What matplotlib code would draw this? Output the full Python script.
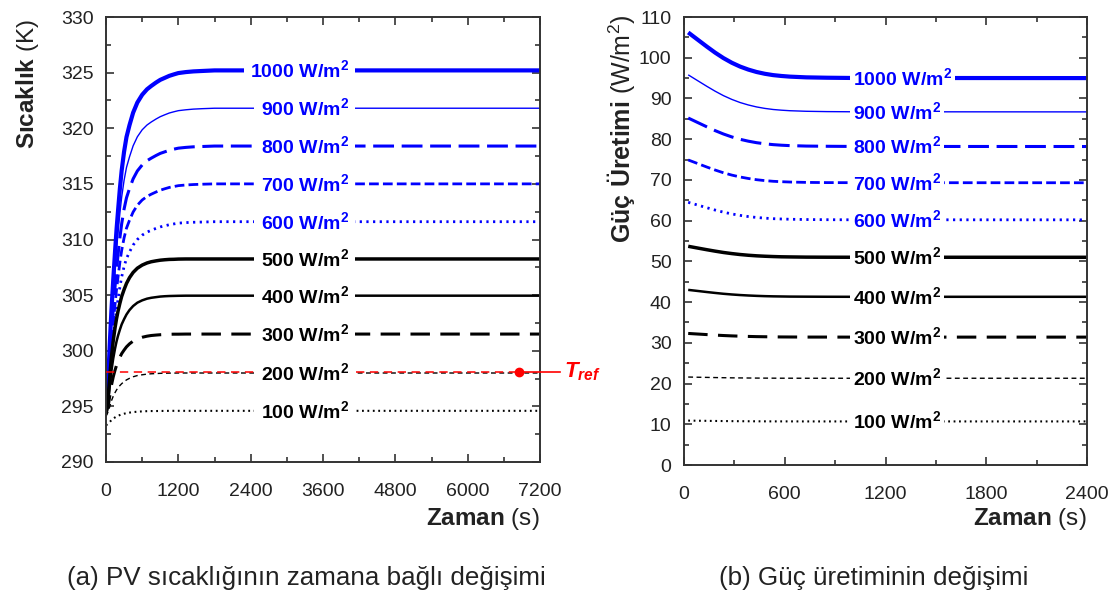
import matplotlib
matplotlib.use('Agg')
import matplotlib.pyplot as plt
from matplotlib.ticker import MultipleLocator

plt.rcParams['font.family'] = ['Liberation Sans', 'DejaVu Sans']
plt.rcParams['mathtext.fontset'] = 'custom'
plt.rcParams['mathtext.rm'] = 'Liberation Sans'
plt.rcParams['mathtext.bf'] = 'Liberation Sans:bold'
plt.rcParams['mathtext.it'] = 'Liberation Sans:bold:italic'
plt.rcParams['lines.scale_dashes'] = False

# ---------------- data ----------------
irradiance = [1000, 900, 800, 700, 600, 500, 400, 300, 200, 100]
series_labels = [rf'{g} W/m$^{{\mathbf{{2}}}}$' for g in irradiance]

# (a) PV temperature vs time (K)
time_a = [0, 20, 40, 65, 90, 120, 150, 175, 200, 230, 260, 300, 340, 390, 450,
          520, 600, 680, 750, 830, 900, 975, 1050, 1125, 1200, 1325, 1450, 1600, 1800, 7200]
temp_1000 = [294.8, 296.17, 297.84, 300.88, 303.62, 306.35, 308.91, 310.91, 312.61, 314.56,
             316.2, 317.9, 319.21, 320.28, 321.4, 322.31, 323.01, 323.5, 323.8, 324.11,
             324.35, 324.53, 324.71, 324.84, 324.96, 325.05, 325.11, 325.15, 325.2, 325.2]
temp_900 = [294.8, 296.01, 297.5, 300.2, 302.63, 305.06, 307.33, 309.11, 310.62, 312.35,
            313.81, 315.32, 316.48, 317.43, 318.42, 319.23, 319.86, 320.29, 320.56, 320.83,
            321.04, 321.21, 321.37, 321.48, 321.58, 321.66, 321.72, 321.76, 321.8, 321.8]
temp_800 = [294.8, 295.86, 297.16, 299.52, 301.64, 303.77, 305.75, 307.31, 308.63, 310.14,
            311.41, 312.74, 313.75, 314.58, 315.45, 316.16, 316.7, 317.08, 317.31, 317.55,
            317.74, 317.88, 318.02, 318.12, 318.21, 318.28, 318.33, 318.36, 318.4, 318.4]
temp_700 = [294.8, 295.71, 296.82, 298.84, 300.66, 302.48, 304.17, 305.51, 306.64, 307.93,
            309.02, 310.15, 311.02, 311.73, 312.47, 313.08, 313.55, 313.87, 314.07, 314.27,
            314.43, 314.56, 314.68, 314.76, 314.84, 314.9, 314.94, 314.97, 315.0, 315.0]
temp_600 = [294.8, 295.56, 296.48, 298.16, 299.67, 301.18, 302.6, 303.7, 304.64, 305.72,
            306.63, 307.57, 308.29, 308.88, 309.5, 310.0, 310.39, 310.66, 310.83, 311.0,
            311.13, 311.23, 311.33, 311.4, 311.47, 311.52, 311.55, 311.57, 311.6, 311.6]
temp_500 = [294.5, 295.32, 296.15, 297.8, 299.45, 300.89, 302.06, 302.89, 303.57, 304.26,
            304.88, 305.5, 306.05, 306.57, 307.04, 307.42, 307.7, 307.89, 308.0, 308.08,
            308.14, 308.18, 308.21, 308.22, 308.24, 308.25, 308.25, 308.25, 308.25, 308.25]
temp_400 = [294.4, 295.03, 295.67, 296.93, 298.2, 299.31, 300.2, 300.84, 301.36, 301.89,
            302.37, 302.84, 303.26, 303.66, 304.02, 304.32, 304.53, 304.68, 304.76, 304.82,
            304.87, 304.9, 304.92, 304.93, 304.94, 304.95, 304.95, 304.95, 304.95, 304.95]
temp_300 = [294.3, 294.73, 295.16, 296.03, 296.89, 297.65, 298.26, 298.69, 299.05, 299.41,
            299.74, 300.06, 300.35, 300.62, 300.87, 301.07, 301.21, 301.31, 301.37, 301.41,
            301.44, 301.46, 301.48, 301.49, 301.49, 301.5, 301.5, 301.5, 301.5, 301.5]
temp_200 = [294.1, 294.33, 294.57, 295.04, 295.5, 295.91, 296.24, 296.48, 296.67, 296.87,
            297.04, 297.22, 297.38, 297.52, 297.66, 297.77, 297.84, 297.9, 297.93, 297.95,
            297.97, 297.98, 297.99, 297.99, 298.0, 298.0, 298.0, 298.0, 298.0, 298.0]
temp_100 = [293.3, 293.38, 293.46, 293.61, 293.77, 293.9, 294.01, 294.09, 294.16, 294.22,
            294.28, 294.34, 294.39, 294.44, 294.49, 294.52, 294.55, 294.57, 294.58, 294.58,
            294.59, 294.59, 294.6, 294.6, 294.6, 294.6, 294.6, 294.6, 294.6, 294.6]
temps = [temp_1000, temp_900, temp_800, temp_700, temp_600,
         temp_500, temp_400, temp_300, temp_200, temp_100]
t_ref = 298.1
t_ref_marker_time = 6850

# (b) power production vs time (W/m2)
time_b = [25, 80, 136, 185, 235, 285, 334, 383, 432, 481, 531, 580, 630, 728, 850, 1000, 2400]
power_1000 = [106.2, 104.48, 102.73, 101.26, 99.91, 98.76, 97.83, 97.09, 96.5, 96.06, 95.73,
              95.52, 95.36, 95.18, 95.09, 95.03, 95.0]
power_900 = [95.8, 94.4, 92.98, 91.79, 90.69, 89.76, 89.0, 88.4, 87.92, 87.56, 87.29,
             87.12, 86.99, 86.85, 86.77, 86.73, 86.7]
power_800 = [85.2, 84.12, 83.03, 82.11, 81.27, 80.55, 79.97, 79.51, 79.14, 78.87, 78.66,
             78.52, 78.42, 78.31, 78.26, 78.22, 78.2]
power_700 = [74.9, 74.04, 73.16, 72.43, 71.75, 71.18, 70.72, 70.35, 70.05, 69.83, 69.66,
             69.56, 69.48, 69.39, 69.34, 69.32, 69.3]
power_600 = [64.5, 63.84, 63.17, 62.6, 62.08, 61.64, 61.29, 61.0, 60.78, 60.61, 60.48,
             60.4, 60.34, 60.27, 60.23, 60.21, 60.2]
power_500 = [53.7, 53.28, 52.86, 52.51, 52.18, 51.91, 51.68, 51.5, 51.36, 51.26, 51.18,
             51.12, 51.09, 51.04, 51.02, 51.01, 51.0]
power_400 = [43.0, 42.74, 42.47, 42.25, 42.04, 41.87, 41.73, 41.62, 41.53, 41.46, 41.41,
             41.38, 41.35, 41.33, 41.31, 41.3, 41.3]
power_300 = [32.3, 32.16, 32.02, 31.9, 31.79, 31.7, 31.63, 31.57, 31.52, 31.49, 31.46,
             31.44, 31.43, 31.41, 31.41, 31.4, 31.4]
power_200 = [21.6, 21.55, 21.51, 21.47, 21.43, 21.4, 21.38, 21.36, 21.34, 21.33, 21.32,
             21.31, 21.31, 21.3, 21.3, 21.3, 21.3]
power_100 = [10.9, 10.87, 10.84, 10.81, 10.79, 10.77, 10.75, 10.74, 10.73, 10.72, 10.71,
             10.71, 10.71, 10.7, 10.7, 10.7, 10.7]
powers = [power_1000, power_900, power_800, power_700, power_600,
          power_500, power_400, power_300, power_200, power_100]

label_time_a = 4030   # right edge of in-line labels, panel (a)
label_time_b = 1005   # left edge of in-line labels, panel (b)

# ---------------- styles ----------------
BLUE = '#0000ff'
styles = [
    dict(color=BLUE, lw=3.0, dashes=None),
    dict(color=BLUE, lw=1.0, dashes=None),
    dict(color=BLUE, lw=2.2, dashes=(15, 5.5)),
    dict(color=BLUE, lw=2.0, dashes=(7, 3)),
    dict(color=BLUE, lw=2.0, dashes=(1.6, 3.2)),
    dict(color='black', lw=2.5, dashes=None),
    dict(color='black', lw=1.8, dashes=None),
    dict(color='black', lw=2.2, dashes=(14, 7.5)),
    dict(color='black', lw=1.0, dashes=(3.5, 2.5)),
    dict(color='black', lw=1.5, dashes=(1.3, 2.6)),
]

fig = plt.figure(figsize=(11.17, 5.99), dpi=100)
ax1 = fig.add_axes([106 / 1117, 1 - 462 / 599, 434 / 1117, 445 / 599])
ax2 = fig.add_axes([684 / 1117, 1 - 465 / 599, 403 / 1117, 448 / 599])

TXT = '#222222'


def style_axes(ax):
    for sp in ax.spines.values():
        sp.set_linewidth(1.4)
        sp.set_color('#333333')
    ax.tick_params(which='both', direction='in', top=True, right=True,
                   colors='#333333', labelcolor=TXT, labelsize=14, width=1.2)
    ax.tick_params(which='major', length=6)
    ax.tick_params(which='minor', length=3.5)
    ax.tick_params(axis='y', pad=9)
    ax.tick_params(axis='x', pad=15)


def draw(ax, x, ys, lx, ha, pad):
    for y, st, lab in zip(ys, styles, series_labels):
        line, = ax.plot(x, y, color=st['color'], lw=st['lw'], zorder=2,
                        solid_capstyle='butt', dash_capstyle='butt',
                        solid_joinstyle='round')
        if st['dashes'] is not None:
            line.set_dashes(st['dashes'])
        ax.text(lx, y[-1], lab, ha=ha, va='center', fontsize=14,
                fontweight='bold', color=st['color'], zorder=5,
                bbox=dict(facecolor='white', edgecolor='none', pad=pad))


# ---- panel (a)
draw(ax1, time_a, temps, label_time_a, 'right', 4.5)
ax1.plot([0, t_ref_marker_time], [t_ref, t_ref], color='red', lw=1.1,
         dashes=(6, 4), zorder=3)
ax1.plot([t_ref_marker_time, 7530], [t_ref, t_ref], color='red', lw=1.2,
         zorder=3, clip_on=False)
ax1.plot([t_ref_marker_time], [t_ref], 'o', color='red', ms=6, zorder=4,
         clip_on=False)
ax1.text(7590, t_ref, r'$\mathit{T}_{\mathit{ref}}$', color='red', fontsize=16,
         ha='left', va='center')
ax1.set_xlim(0, 7200)
ax1.set_ylim(290, 330)
ax1.xaxis.set_major_locator(MultipleLocator(1200))
ax1.xaxis.set_minor_locator(MultipleLocator(600))
ax1.yaxis.set_major_locator(MultipleLocator(5))
ax1.yaxis.set_minor_locator(MultipleLocator(2.5))
style_axes(ax1)
ax1.set_ylabel(r'$\mathbf{Sıcaklık}$ (K)', fontsize=17.5, loc='top', color=TXT)
ax1.yaxis.set_label_coords(-0.18, 0.995)
ax1.yaxis.label.set_va('center')
ax1.set_xlabel(r'$\mathbf{Zaman}$ (s)', fontsize=17.5, loc='right', color=TXT)
ax1.xaxis.set_label_coords(1.0, -0.127)
ax1.xaxis.label.set_va('center')

# ---- panel (b)
draw(ax2, time_b, powers, label_time_b, 'left', 2)
ax2.set_xlim(0, 2400)
ax2.set_ylim(0, 110)
ax2.xaxis.set_major_locator(MultipleLocator(600))
ax2.xaxis.set_minor_locator(MultipleLocator(300))
ax2.yaxis.set_major_locator(MultipleLocator(10))
ax2.yaxis.set_minor_locator(MultipleLocator(5))
style_axes(ax2)
ax2.set_ylabel(r'$\mathbf{Güç\ Üretimi}$ (W/m$^2$)', fontsize=18, loc='top', color=TXT)
ax2.yaxis.set_label_coords(-0.157, 1.005)
ax2.yaxis.label.set_va('center')
ax2.set_xlabel(r'$\mathbf{Zaman}$ (s)', fontsize=17.5, loc='right', color=TXT)
ax2.xaxis.set_label_coords(1.0, -0.12)
ax2.xaxis.label.set_va('center')

# captions
fig.text(306 / 1117, 1 - 578 / 599, '(a) PV sıcaklığının zamana bağlı değişimi',
         ha='center', va='center', fontsize=18.7, color=TXT)
fig.text(874 / 1117, 1 - 578 / 599, '(b) Güç üretiminin değişimi',
         ha='center', va='center', fontsize=18.7, color=TXT)

fig.savefig('out.png', dpi=100)
